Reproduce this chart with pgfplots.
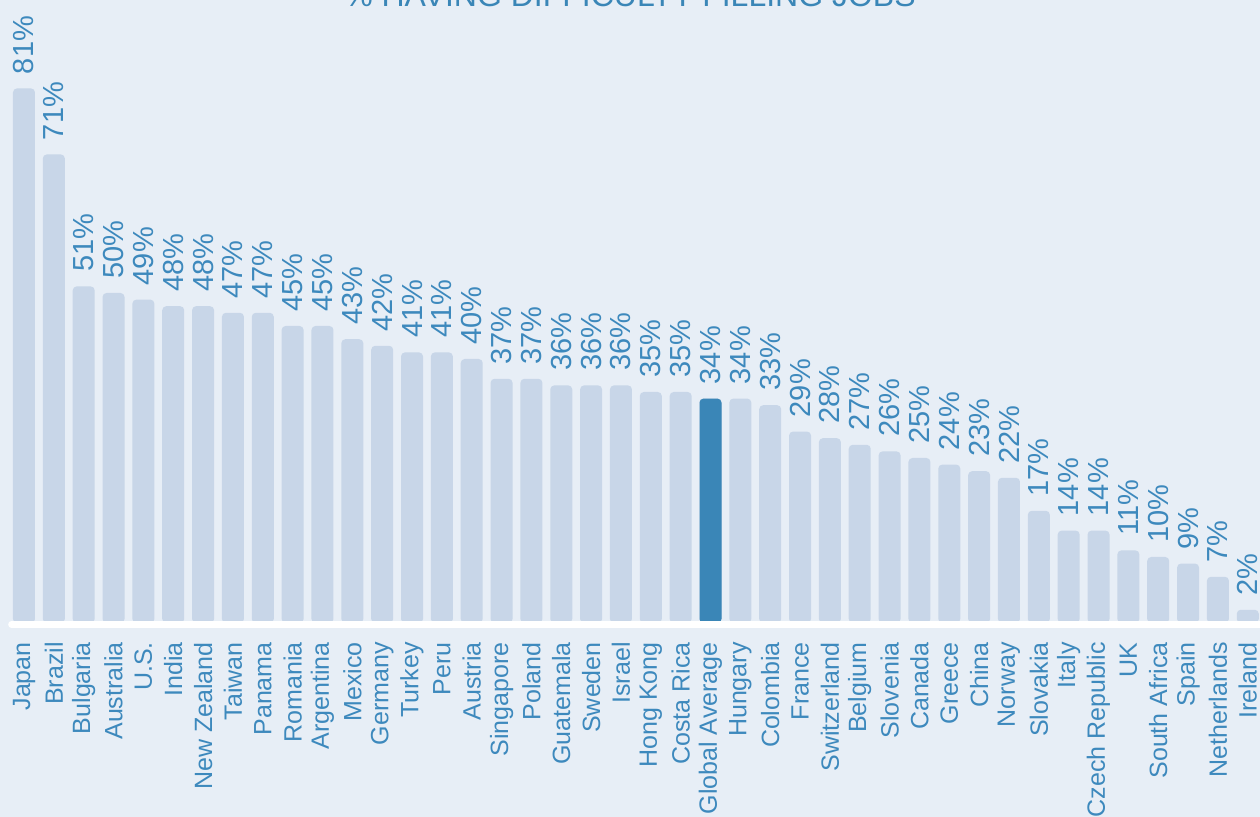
\documentclass[border=0pt]{standalone}
\usepackage{pgfplots}
\pgfplotsset{compat=1.18}
\usepackage{fontspec}
\setmainfont{Liberation Sans}
\definecolor{bg}{HTML}{E7EEF6}
\definecolor{barc}{HTML}{C8D6E8}
\definecolor{hi}{HTML}{3A86B7}
\definecolor{txt}{HTML}{3D89BD}
\newcommand{\tl}{\fontsize{12.5}{15}\selectfont}
\pgfplotstableread{
x y
0 81
1 71
2 51
3 50
4 49
5 48
6 48
7 47
8 47
9 45
10 45
11 43
12 42
13 41
14 41
15 40
16 37
17 37
18 36
19 36
20 36
21 35
22 35
23 34
24 34
25 33
26 29
27 28
28 27
29 26
30 25
31 24
32 23
33 22
34 17
35 14
36 14
37 11
38 10
39 9
40 7
41 2
}\datatable
\begin{document}
\begin{tikzpicture}
\useasboundingbox (0,0) rectangle (630pt,408.5pt);
\fill[bg] (0,0) rectangle (630pt,408.5pt);
\clip (0,0) rectangle (630pt,408.5pt);
\node[anchor=base, font=\fontsize{16}{18}\selectfont, text=hi] at (315pt,405pt) {\% HAVING DIFFICULTY FILLING JOBS};
\begin{axis}[
  at={(0,0)}, anchor=south west, scale only axis,
  width=630pt, height=408.5pt,
  xmin=-0.804, xmax=41.41, ymin=-29.4, ymax=94.4,
  axis y line=none, axis x line=middle,
  x axis line style={draw=none},
  major tick length=0pt,
  clip=false,
  /pgf/number format/assume math mode=true,
  xtick={0,...,41},
  xticklabels={Japan,Brazil,Bulgaria,Australia,U.S.,India,New Zealand,Taiwan,Panama,Romania,Argentina,Mexico,Germany,Turkey,Peru,Austria,Singapore,Poland,Guatemala,Sweden,Israel,Hong Kong,Costa Rica,Global Average,Hungary,Colombia,France,Switzerland,Belgium,Slovenia,Canada,Greece,China,Norway,Slovakia,Italy,Czech Republic,UK,South Africa,Spain,Netherlands,Ireland},
  xticklabel style={rotate=90, anchor=east, inner sep=0pt, xshift=-9.5pt, font=\tl, text=txt},
  ytick=\empty,
]
\addplot[ybar, bar width=0.737, bar shift=0pt, fill=barc, draw=none, rounded corners=2pt,
  nodes near coords={\pgfmathprintnumber{\pgfplotspointmeta}\%},
  every node near coord/.append style={rotate=90, anchor=west, inner sep=0pt, xshift=7pt, font=\fontsize{14.5}{16}\selectfont, text=txt}]
  table[x=x, y=y] {\datatable};
\addplot[ybar, bar width=0.737, bar shift=0pt, fill=hi, draw=none, rounded corners=2pt]
  coordinates {(23,34)};
\draw[white, line width=3.3pt, line cap=round] (axis cs:-0.42,-0.2) -- (axis cs:42,-0.2);
\end{axis}
\end{tikzpicture}
\end{document}
